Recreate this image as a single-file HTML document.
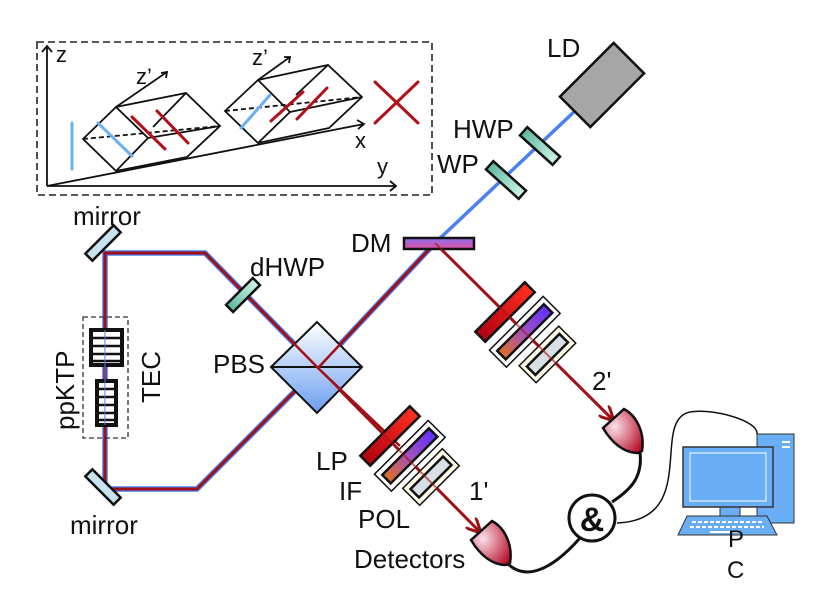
<!DOCTYPE html><html><head><style>body{margin:0;background:#fff}svg{display:block}text{font-family:"Liberation Sans",sans-serif;fill:#111}</style></head><body>
<svg width="831" height="609" viewBox="0 0 831 609" xmlns="http://www.w3.org/2000/svg">
<defs>
<linearGradient id="dm" x1="0" y1="0" x2="0" y2="1"><stop offset="0" stop-color="#9070f0"/><stop offset="1" stop-color="#e050a0"/></linearGradient>
<linearGradient id="lp" x1="0" x2="1"><stop offset="0" stop-color="#b00010"/><stop offset="1" stop-color="#ff3020"/></linearGradient>
<linearGradient id="if" x1="0" x2="1"><stop offset="0" stop-color="#e07020"/><stop offset="0.5" stop-color="#a050c0"/><stop offset="1" stop-color="#6030ff"/></linearGradient>
<linearGradient id="pbs" x1="0" y1="0" x2="0" y2="1"><stop offset="0" stop-color="#fff"/><stop offset="1" stop-color="#6a9ef0"/></linearGradient>
<linearGradient id="wp" x1="0" x2="1"><stop offset="0" stop-color="#5cb8a0"/><stop offset="1" stop-color="#d0f5e8"/></linearGradient>
<radialGradient id="det" cx="0.3" cy="0.4" r="0.8"><stop offset="0" stop-color="#fbe0ea"/><stop offset="1" stop-color="#b8102a"/></radialGradient>
<marker id="ar" viewBox="0 0 10 10" refX="9" refY="5" markerWidth="5" markerHeight="5" orient="auto"><path d="M0,0 L10,5 L0,10" fill="none" stroke="#a01010" stroke-width="2"/></marker>
</defs>
<!-- inset -->
<rect x="37" y="42" width="395" height="153" fill="none" stroke="#222" stroke-width="1.6" stroke-dasharray="7,4"/>
<g stroke="#111" stroke-width="1.8" fill="none">
<path d="M47,186 V46 M42,52 L47,46 L52,52"/>
<path d="M47,186 H396 M390,181 L396,186 L390,191"/>
<path d="M47,186 L364,124 M357,120 L364,124 L358,129"/>
<path d="M83,139 L116,107 L148,138 L116,171 Z M116,107 L186,93 L220,126 L187,157 L116,171 M148,138 L220,126 M186,93 L153,127"/>
<path d="M83,139 L220,126" stroke-dasharray="5,3"/>
<path d="M116,107 L167,72 M161,73 L167,72 L166,78"/>
<path d="M225,111 L258,80 L290,112 L258,143 Z M258,80 L328,65 L362,97 L329,128 L258,143 M290,112 L362,97 M328,65 L296,95"/>
<path d="M225,111 L362,97" stroke-dasharray="5,3"/>
<path d="M258,80 L290,57 M284,57 L290,57 L289,63"/>
</g>
<g stroke-width="3" stroke-linecap="round">
<path d="M72,123 V169 M98,123 L132,156 M270,95 L241,128" stroke="#6cb0f0"/>
<path d="M132,117 L165,149 M157,111 L188,143 M303,92 L271,121 M327,88 L297,119 M375,82 L418,123 M418,82 L375,123" stroke="#b01018"/>
</g>
<g font-size="22">
<text x="56" y="62">z</text><text x="136" y="84">z’</text><text x="252" y="65">z’</text>
<text x="355" y="148">x</text><text x="377" y="174">y</text></g>
<!-- beams -->
<g fill="none" stroke-width="3.5">
<path d="M576,110 L435,243 L318,368" stroke="#4a80f0"/>
<path d="M435,243 L318,368 L197,489 L105,489 L105,253 L205,253 L318,368" stroke="#4a80f0" stroke-width="5.5"/>
<path d="M435,243 L318,368 L197,489 L105,489 L105,253 L205,253 L318,368 L480,532" stroke="#a01018" stroke-width="3" marker-end="url(#ar)"/>
<path d="M435,243 L613,420" stroke="#a01018" stroke-width="3" marker-end="url(#ar)"/>
</g>
<!-- PBS -->
<path d="M271,367 L317,322 L362,367 L317,413 Z" fill="url(#pbs)" stroke="#111" stroke-width="2"/>
<path d="M271,367 H362" stroke="#111" stroke-width="2"/>
<path d="M205,253 L318,368 L400,446 M318,368 L435,243" fill="none" stroke="#a01018" stroke-width="2.5"/>
<!-- LD -->
<rect x="-38" y="-21.5" width="76" height="43" fill="#a6a6a6" stroke="#111" stroke-width="2.5" transform="translate(602,85) rotate(-45)"/>
<!-- optics -->
<g stroke="#111" stroke-width="2.5">
<rect x="-20" y="-5" width="40" height="10" fill="#c8e2f0" transform="translate(103,243) rotate(-45)"/>
<rect x="-20" y="-5" width="40" height="10" fill="#c8e2f0" transform="translate(103,487) rotate(45)"/>
<rect x="-19" y="-5" width="38" height="10" fill="url(#wp)" transform="translate(243,295) rotate(-45)"/>
<rect x="-22" y="-5.5" width="44" height="11" fill="url(#wp)" transform="translate(540,146) rotate(42)"/>
<rect x="-22" y="-5.5" width="44" height="11" fill="url(#wp)" transform="translate(506,180) rotate(42)"/>
<rect x="404" y="238" width="70" height="11" fill="url(#dm)"/>
</g>
<g transform="translate(390,436) rotate(-45)">
<rect x="-35" y="-7" width="70" height="14" fill="url(#lp)" stroke="#111" stroke-width="2.5"/>
<rect x="-38" y="16" width="76" height="24" fill="#fff" stroke="#111" stroke-width="1.5"/>
<rect x="-33" y="22" width="66" height="12" fill="url(#if)" stroke="#111" stroke-width="2.5"/>
<rect x="-28" y="46" width="56" height="24" fill="#fffbe8" stroke="#111" stroke-width="1.5"/>
<rect x="-23" y="52" width="46" height="12" fill="#d8e0e4" stroke="#111" stroke-width="2.5"/>
</g>
<g transform="translate(505,312) rotate(-45)">
<rect x="-35" y="-7" width="70" height="14" fill="url(#lp)" stroke="#111" stroke-width="2.5"/>
<rect x="-38" y="16" width="76" height="24" fill="#fff" stroke="#111" stroke-width="1.5"/>
<rect x="-33" y="22" width="66" height="12" fill="url(#if)" stroke="#111" stroke-width="2.5"/>
<rect x="-28" y="48" width="56" height="24" fill="#fffbe8" stroke="#111" stroke-width="1.5"/>
<rect x="-23" y="54" width="46" height="12" fill="#d8e0e4" stroke="#111" stroke-width="2.5"/>
</g>
<path d="M318,368 L480,532 M435,243 L613,420" fill="none" stroke="#a01018" stroke-width="2" opacity="0.6"/>
<!-- crystal -->
<rect x="83" y="317" width="45" height="121" fill="none" stroke="#333" stroke-width="1.3" stroke-dasharray="5,3"/>
<rect x="91" y="330" width="31" height="35" fill="#fff" stroke="#111" stroke-width="4"/>
<path d="M93,338 H120 M93,346 H120 M93,354 H120 M93,361 H120" stroke="#111" stroke-width="2.5"/>
<rect x="97" y="381" width="19" height="44" fill="#fff" stroke="#111" stroke-width="4"/>
<path d="M99,389 H114 M99,397 H114 M99,405 H114 M99,413 H114 M99,420 H114" stroke="#111" stroke-width="2.5"/>
<path d="M105,330 V425" stroke="#4a80f0" stroke-width="2" opacity="0.5"/>
<!-- detectors -->
<path d="M471,540 L492,521 C505,528 513,545 510,563 L506,565 C492,565 480,555 471,540 Z" fill="url(#det)" stroke="#111" stroke-width="2.5"/>
<path d="M603,428 L624,409 C637,416 645,433 642,451 L638,453 C624,453 612,443 603,428 Z" fill="url(#det)" stroke="#111" stroke-width="2.5"/>
<g fill="none" stroke="#111" stroke-width="3">
<path d="M508,564 C525,580 550,572 580,538"/>
<path d="M640,452 C643,478 630,490 612,502"/>
</g>
<path d="M617,523 C700,520 650,420 690,412 C710,408 760,420 757,435" fill="none" stroke="#111" stroke-width="1.5"/>
<circle cx="592" cy="518" r="23" fill="#fff" stroke="#111" stroke-width="3"/>
<text x="592" y="531" font-size="34" font-weight="bold" text-anchor="middle">&amp;</text>
<!-- PC -->
<rect x="757" y="434" width="37" height="89" fill="#6aaef5" stroke="#333" stroke-width="1"/>
<path d="M782,442 h8 M782,447 h8" stroke="#fff" stroke-width="2"/>
<rect x="720" y="505" width="20" height="12" fill="#6aaef5" stroke="#333"/>
<rect x="683" y="447" width="90" height="60" fill="#6aaef5" stroke="#333" stroke-width="1.5"/>
<rect x="690" y="453" width="76" height="48" fill="none" stroke="#fff" stroke-width="1"/>
<path d="M678,535 L687,516 H767 L777,535 Z" fill="#6aaef5" stroke="#333"/>
<path d="M692,522 H762 M690,527 H764" stroke="#fff" stroke-width="2" stroke-dasharray="4,2"/>
<path d="M710,532 H740" stroke="#fff" stroke-width="2"/>
<!-- labels -->
<g font-size="26">
<text x="547" y="57">LD</text><text x="453" y="138">HWP</text><text x="437" y="173">WP</text>
<text x="351" y="252">DM</text><text x="250" y="276">dHWP</text><text x="213" y="373">PBS</text>
<text x="73" y="225">mirror</text><text x="70" y="534">mirror</text>
<text x="316" y="470">LP</text><text x="339" y="500">IF</text><text x="358" y="528">POL</text>
<text x="354" y="568">Detectors</text><text x="469" y="500">1'</text><text x="592" y="390">2'</text>
<text x="728" y="547" font-size="24">P</text><text x="727" y="578" font-size="24">C</text>
<text transform="translate(160,403) rotate(-90)">TEC</text>
<text transform="translate(74,430) rotate(-90)">ppKTP</text>
</g>
</svg>
</body></html>
